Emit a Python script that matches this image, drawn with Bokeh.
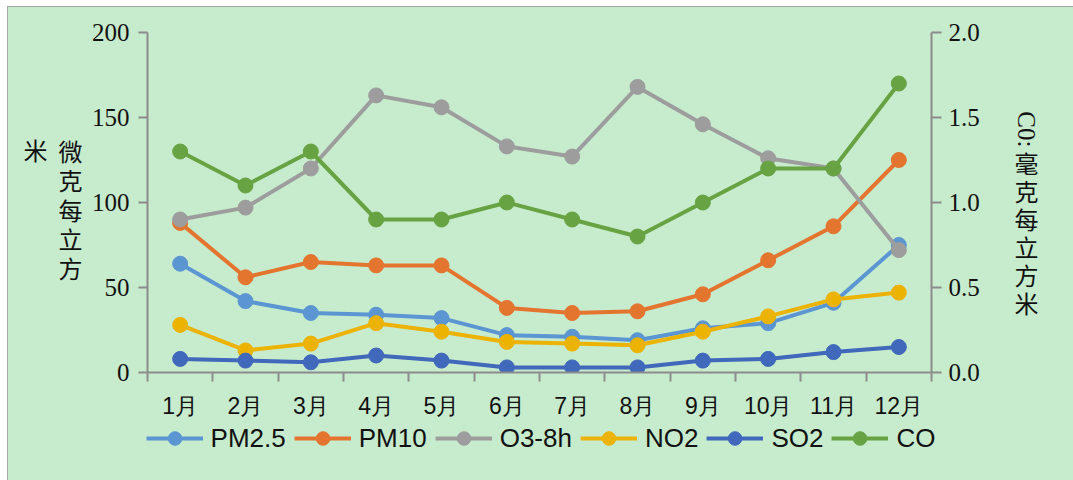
import math
from bokeh.plotting import figure
from bokeh.layouts import row, column
from bokeh.models import (Range1d, LinearAxis, FixedTicker, PrintfTickFormatter,
                          Label, Legend, LegendItem)
from bokeh.embed import file_html
from bokeh.resources import INLINE

# ---- data ----
months = ["1月", "2月", "3月", "4月", "5月", "6月", "7月", "8月", "9月", "10月", "11月", "12月"]
pm25 = [64, 42, 35, 34, 32, 22, 21, 19, 26, 29, 41, 75]
pm10 = [88, 56, 65, 63, 63, 38, 35, 36, 46, 66, 86, 125]
o3_8h = [90, 97, 120, 163, 156, 133, 127, 168, 146, 126, 120, 72]
no2 = [28, 13, 17, 29, 24, 18, 17, 16, 24, 33, 43, 47]
so2 = [8, 7, 6, 10, 7, 3, 3, 3, 7, 8, 12, 15]
co = [1.3, 1.1, 1.3, 0.9, 0.9, 1.0, 0.9, 0.8, 1.0, 1.2, 1.2, 1.7]
left_ticks = [0, 50, 100, 150, 200]
right_ticks = [0.0, 0.5, 1.0, 1.5, 2.0]
series_names = ["PM2.5", "PM10", "O3-8h", "NO2", "SO2", "CO"]
left_title = "微克每立方米"
right_title_latin = "C0:"
right_title_cjk = "毫克每立方米"

# ---- style ----
BG = "#c7ebcd"
AXIS = "#8c8c8c"
TXT = "#111111"
colors = ["#5b96d2", "#e3752f", "#9d9d9d", "#ecb300", "#4068bb", "#67a342"]
cjk_font = "Noto Sans CJK SC"

x = [i + 1 for i in range(len(months))]
n = len(months)
ROW_H = 414


def blank_fig(w, h):
    f = figure(width=w, height=h, x_range=Range1d(0, w), y_range=Range1d(0, h),
               min_border=0, x_axis_location=None, y_axis_location=None,
               toolbar_location=None, output_backend="svg",
               background_fill_color=BG, border_fill_color=BG, outline_line_color=None)
    f.grid.visible = False
    return f


# ---- main chart ----
p = figure(frame_width=784, frame_height=340,
           x_range=Range1d(0.5, n + 0.5), y_range=Range1d(left_ticks[0], left_ticks[-1]),
           output_backend="svg", toolbar_location=None,
           min_border_left=58, min_border_right=65, min_border_top=25, min_border_bottom=ROW_H - 365,
           background_fill_color=BG, border_fill_color=BG, outline_line_color=None)
p.extra_y_ranges = {"co": Range1d(right_ticks[0], right_ticks[-1])}
p.xgrid.visible = False
p.ygrid.visible = False

xa = p.xaxis[0]
xa.ticker = FixedTicker(ticks=x, minor_ticks=[i + 0.5 for i in range(n + 1)])
xa.major_label_overrides = {xi: m for xi, m in zip(x, months)}
xa.major_tick_out = 0
xa.major_tick_in = 0
xa.minor_tick_out = 9
xa.minor_tick_in = 0
xa.minor_tick_line_color = AXIS
xa.minor_tick_line_width = 2
xa.axis_line_color = AXIS
xa.axis_line_width = 2
xa.major_label_standoff = 11
xa.major_label_text_font = "Liberation Sans"
xa.major_label_text_font_size = "23px"
xa.major_label_text_color = TXT

ya = p.yaxis[0]
ya.ticker = FixedTicker(ticks=left_ticks)
ya.major_tick_out = 9
ya.major_tick_in = 0
ya.minor_tick_out = 0
ya.minor_tick_in = 0
ya.major_tick_line_color = AXIS
ya.major_tick_line_width = 2
ya.axis_line_color = AXIS
ya.axis_line_width = 2
ya.major_label_standoff = 9
ya.major_label_text_font = "Liberation Serif"
ya.major_label_text_font_size = "25px"
ya.major_label_text_color = TXT

ra = LinearAxis(y_range_name="co", ticker=FixedTicker(ticks=right_ticks),
                formatter=PrintfTickFormatter(format="%.1f"))
ra.major_tick_out = 10
ra.major_tick_in = 0
ra.minor_tick_out = 0
ra.minor_tick_in = 0
ra.major_tick_line_color = AXIS
ra.major_tick_line_width = 2
ra.axis_line_color = AXIS
ra.axis_line_width = 2
ra.major_label_standoff = 7
ra.major_label_text_font = "Liberation Serif"
ra.major_label_text_font_size = "25px"
ra.major_label_text_color = TXT
p.add_layout(ra, "right")

all_series = [pm25, pm10, o3_8h, no2, so2, co]
for name, vals, col in zip(series_names, all_series, colors):
    kw = {"y_range_name": "co"} if name == "CO" else {}
    p.line(x, vals, line_color=col, line_width=4, **kw)
    p.scatter(x, vals, marker="circle", size=15, fill_color=col, line_color=col, **kw)

# ---- left title (vertical text, two columns) ----
lt = blank_fig(80, ROW_H)
lt.add_layout(Label(x=62, y=ROW_H - 215, text="\n".join(left_title[:5]),
                    text_align="center", text_baseline="middle", text_line_height=0.835,
                    text_font=cjk_font, text_font_size="24px", text_color=TXT))
lt.add_layout(Label(x=27, y=ROW_H - 143, text=left_title[5],
                    text_align="center", text_baseline="middle",
                    text_font=cjk_font, text_font_size="24px", text_color=TXT))

# ---- right title ----
rt = blank_fig(78, ROW_H)
rt.add_layout(Label(x=30, y=ROW_H - 118, text=right_title_latin, angle=-math.pi / 2,
                    text_align="center", text_baseline="middle",
                    text_font="Liberation Serif", text_font_size="25px", text_color=TXT))
rt.add_layout(Label(x=30, y=ROW_H - 244, text="\n".join(right_title_cjk),
                    text_align="center", text_baseline="middle", text_line_height=0.8,
                    text_font=cjk_font, text_font_size="24px", text_color=TXT))

# ---- legend strip ----
lg = figure(width=1065, height=480 - 7 - ROW_H, x_range=Range1d(0, 1), y_range=Range1d(1000, 1001),
            min_border=0, x_axis_location=None, y_axis_location=None,
            toolbar_location=None, output_backend="svg",
            background_fill_color=BG, border_fill_color=BG, outline_line_color=None)
lg.grid.visible = False
items = []
for name, vals, col in zip(series_names, all_series, colors):
    r1 = lg.line(x, vals, line_color=col, line_width=4)
    r2 = lg.scatter(x, vals, marker="circle", size=15, fill_color=col, line_color=col)
    items.append(LegendItem(label=name, renderers=[r1, r2]))
legend = Legend(items=items, orientation="horizontal", location="top_center",
                glyph_width=57, glyph_height=34, label_standoff=8, spacing=8,
                padding=0, margin=0, background_fill_alpha=0, border_line_color=None,
                label_text_font="Liberation Sans", label_text_font_size="26px",
                label_text_color=TXT)
lg.add_layout(legend, "center")

layout = column(row(lt, p, rt), lg, margin=(6, 0, 0, 7),
                styles={"border-top": "1px solid #a6a6a6", "border-left": "1px solid #a6a6a6",
                        "background-color": BG})

open("out.html", "w").write(file_html(layout, INLINE))
